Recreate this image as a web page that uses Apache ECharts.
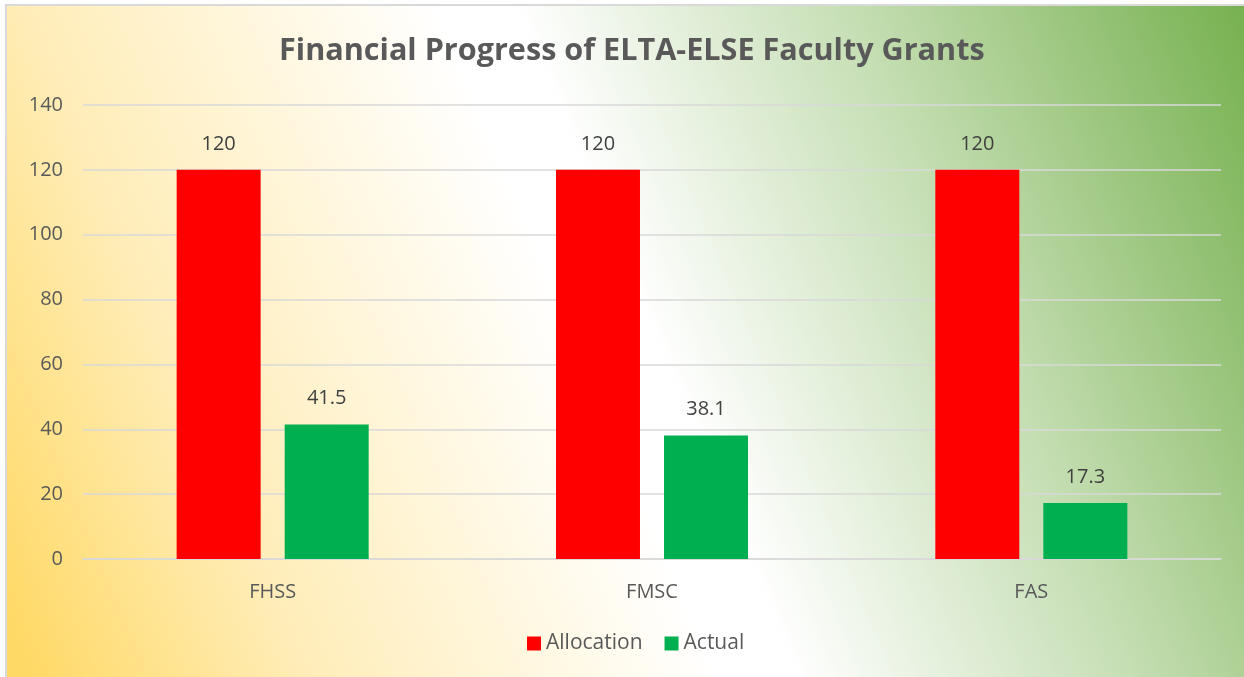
<!DOCTYPE html>
<html>
<head>
<meta charset="utf-8">
<script src="https://cdn.jsdelivr.net/npm/echarts@6/dist/echarts.min.js"></script>
<style>
  html, body { margin: 0; padding: 0; background: #fff; }
  #main { width: 1244px; height: 677px; }
</style>
</head>
<body>
<div id="main"></div>
<script>
const categories = ['FHSS', 'FMSC', 'FAS'];
const allocation = [120, 120, 120];
const actual = [41.5, 38.1, 17.3];

const chart = echarts.init(document.getElementById('main'));

// label style shared by axes, legend, bar labels
const txt = { fontFamily: 'Open Sans', fontSize: 20, color: '#595959' };

const option = {
  animation: false,
  graphic: [{
    type: 'rect',
    z: -10,
    shape: { x: 6, y: 5, width: 1250, height: 680 },
    style: {
      fill: new echarts.graphic.LinearGradient(0, 0.9, 1.04, 0.1, [
        { offset: 0, color: '#FFD966' },
        { offset: 0.18, color: '#FFEDB8' },
        { offset: 0.45, color: '#FFFFFF' },
        { offset: 0.5, color: '#FFFFFF' },
        { offset: 0.72, color: '#C5DEB3' },
        { offset: 1, color: '#70AD47' }
      ]),
      stroke: '#D9D9D9',
      lineWidth: 2
    }
  }],
  title: {
    text: 'Financial Progress of ELTA-ELSE Faculty Grants',
    left: 274,
    top: 31,
    textStyle: {
      fontFamily: 'Open Sans',
      fontSize: 30.6,
      fontWeight: 'bold',
      color: '#595959'
    }
  },
  legend: {
    bottom: 18,
    left: 522,
    itemWidth: 14,
    itemHeight: 14,
    itemGap: 22,
    icon: 'rect',
    textStyle: { fontFamily: 'Open Sans', fontSize: 21, color: '#595959' },
    data: ['Allocation', 'Actual']
  },
  grid: { left: 83, right: 23, top: 105, bottom: 118 },
  xAxis: {
    type: 'category',
    data: categories,
    axisLine: { lineStyle: { color: '#D9D9D9', width: 1.5 } },
    axisTick: { show: false },
    axisLabel: Object.assign({ margin: 23 }, txt)
  },
  yAxis: {
    type: 'value',
    min: 0,
    max: 140,
    interval: 20,
    axisLine: { show: false },
    axisTick: { show: false },
    axisLabel: Object.assign({ margin: 20 }, txt),
    splitLine: { lineStyle: { color: '#D9D9D9', width: 1.5 } }
  },
  series: [{
    name: 'Allocation',
    type: 'bar',
    data: allocation,
    barWidth: 84,
    barGap: '28.6%',
    itemStyle: { color: '#FF0000' },
    label: { show: true, position: 'top', distance: 16, fontFamily: 'Open Sans', fontSize: 20, color: '#404040' }
  }, {
    name: 'Actual',
    type: 'bar',
    data: actual,
    barWidth: 84,
    itemStyle: { color: '#00B050' },
    label: { show: true, position: 'top', distance: 16, fontFamily: 'Open Sans', fontSize: 20, color: '#404040' }
  }]
};

chart.setOption(option);
</script>
</body>
</html>
